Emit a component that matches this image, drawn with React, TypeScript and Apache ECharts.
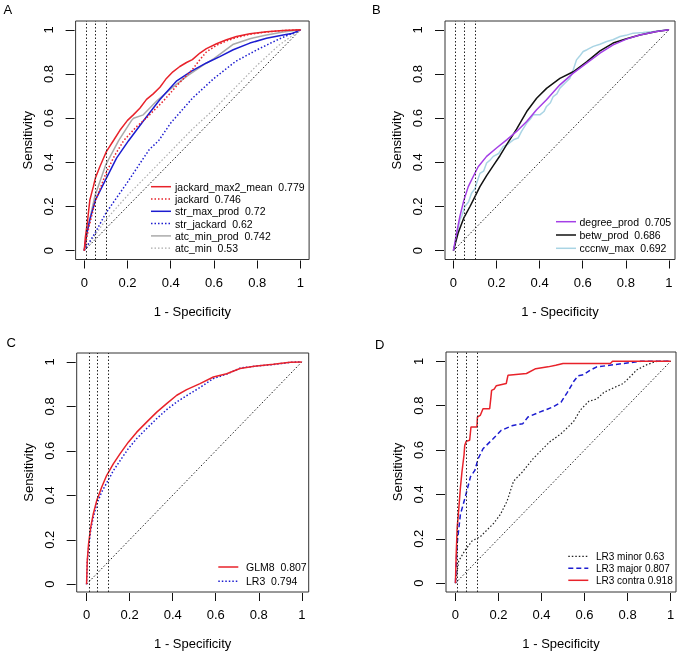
import React, { useEffect, useRef } from "react";
import * as echarts from "echarts";

// ---------- data ----------
const TICKS = [0, 0.2, 0.4, 0.6, 0.8, 1];
const CUTOFFS = [0.01, 0.05, 0.1];
const DIAG = [[0, 0], [1, 1]];

// Panel A
const jackardMax2Mean = [[0,0],[0.005,0.06],[0.014,0.125],[0.026,0.23],[0.042,0.29],[0.052,0.33],[0.072,0.38],[0.103,0.45],[0.136,0.5],[0.165,0.545],[0.2,0.59],[0.227,0.615],[0.257,0.645],[0.288,0.685],[0.319,0.71],[0.35,0.74],[0.365,0.76],[0.38,0.78],[0.41,0.81],[0.442,0.834],[0.473,0.852],[0.5,0.865],[0.535,0.895],[0.565,0.915],[0.612,0.937],[0.658,0.955],[0.704,0.97],[0.766,0.982],[0.843,0.991],[0.92,0.997],[1,1]];
const jackard = [[0,0],[0.02,0.1],[0.05,0.22],[0.1,0.35],[0.14,0.43],[0.182,0.498],[0.24,0.56],[0.29,0.603],[0.367,0.679],[0.428,0.747],[0.47,0.79],[0.5,0.82],[0.535,0.865],[0.565,0.9],[0.612,0.93],[0.658,0.95],[0.704,0.965],[0.766,0.98],[0.843,0.99],[0.92,0.997],[1,1]];
const strMaxProd = [[0,0],[0.01,0.07],[0.026,0.14],[0.052,0.23],[0.103,0.33],[0.15,0.42],[0.205,0.498],[0.274,0.588],[0.351,0.686],[0.428,0.769],[0.498,0.814],[0.565,0.85],[0.627,0.879],[0.689,0.91],[0.766,0.94],[0.843,0.962],[0.92,0.977],[0.966,0.985],[1,1]];
const strJackard = [[0,0],[0.05,0.08],[0.1,0.17],[0.2,0.31],[0.3,0.457],[0.344,0.498],[0.4,0.578],[0.5,0.69],[0.6,0.78],[0.7,0.857],[0.8,0.91],[0.9,0.958],[1,1]];
const atcMinProd = [[0,0],[0.02,0.12],[0.05,0.25],[0.1,0.39],[0.159,0.498],[0.219,0.59],[0.228,0.6],[0.273,0.615],[0.336,0.679],[0.397,0.73],[0.475,0.79],[0.55,0.84],[0.6,0.87],[0.69,0.935],[0.766,0.96],[0.843,0.977],[0.92,0.99],[1,1]];
const atcMin = [[0,0],[0.05,0.07],[0.1,0.14],[0.2,0.25],[0.3,0.35],[0.4,0.45],[0.5,0.55],[0.6,0.64],[0.7,0.74],[0.8,0.84],[0.9,0.93],[1,1]];

// Panel B
const degreeProd = [[0,0],[0.015,0.08],[0.03,0.155],[0.049,0.23],[0.069,0.29],[0.092,0.336],[0.115,0.38],[0.154,0.427],[0.2,0.465],[0.247,0.502],[0.293,0.54],[0.34,0.585],[0.386,0.638],[0.432,0.683],[0.494,0.751],[0.556,0.804],[0.618,0.849],[0.68,0.894],[0.741,0.932],[0.803,0.958],[0.865,0.977],[0.943,0.992],[1,1]];
const betwProd = [[0,0],[0.022,0.08],[0.049,0.15],[0.077,0.2],[0.1,0.245],[0.123,0.29],[0.154,0.34],[0.185,0.385],[0.216,0.43],[0.247,0.48],[0.293,0.55],[0.34,0.63],[0.386,0.69],[0.432,0.735],[0.494,0.78],[0.556,0.81],[0.618,0.855],[0.68,0.905],[0.741,0.94],[0.803,0.96],[0.865,0.977],[0.943,0.992],[1,1]];
const cccnwMax = [[0,0],[0.01,0.04],[0.015,0.065],[0.03,0.14],[0.04,0.16],[0.053,0.2],[0.07,0.22],[0.084,0.26],[0.1,0.28],[0.108,0.306],[0.123,0.35],[0.14,0.36],[0.154,0.397],[0.17,0.41],[0.185,0.427],[0.21,0.44],[0.231,0.472],[0.25,0.48],[0.278,0.502],[0.3,0.51],[0.316,0.54],[0.34,0.578],[0.36,0.6],[0.37,0.615],[0.401,0.615],[0.42,0.63],[0.432,0.653],[0.45,0.67],[0.463,0.698],[0.48,0.71],[0.494,0.736],[0.525,0.766],[0.54,0.78],[0.556,0.819],[0.571,0.864],[0.585,0.88],[0.602,0.902],[0.62,0.91],[0.649,0.925],[0.68,0.935],[0.711,0.947],[0.74,0.955],[0.773,0.97],[0.8,0.975],[0.834,0.985],[0.88,0.988],[0.927,0.992],[1,1]];

// Panel C
const glm8 = [[0,0],[0.003,0.105],[0.009,0.18],[0.019,0.256],[0.031,0.316],[0.047,0.376],[0.07,0.436],[0.093,0.489],[0.124,0.541],[0.155,0.586],[0.194,0.639],[0.233,0.684],[0.279,0.729],[0.326,0.774],[0.372,0.812],[0.419,0.85],[0.465,0.875],[0.527,0.902],[0.589,0.932],[0.651,0.947],[0.713,0.97],[0.791,0.982],[0.868,0.989],[0.946,0.998],[1,1]];
const lr3 = [[0,0],[0.003,0.1],[0.01,0.17],[0.02,0.25],[0.031,0.3],[0.047,0.36],[0.07,0.415],[0.093,0.455],[0.124,0.51],[0.155,0.555],[0.194,0.61],[0.233,0.655],[0.279,0.7],[0.326,0.745],[0.372,0.785],[0.419,0.82],[0.465,0.848],[0.527,0.885],[0.589,0.925],[0.651,0.945],[0.713,0.972],[0.791,0.982],[0.868,0.988],[0.946,0.998],[1,1]];

// Panel D
const lr3Minor = [[0,0],[0.015,0.1],[0.046,0.15],[0.077,0.19],[0.116,0.21],[0.147,0.24],[0.178,0.27],[0.209,0.31],[0.24,0.37],[0.27,0.46],[0.31,0.5],[0.36,0.56],[0.39,0.59],[0.437,0.636],[0.49,0.673],[0.53,0.71],[0.55,0.73],[0.58,0.78],[0.62,0.82],[0.657,0.83],[0.69,0.86],[0.734,0.88],[0.78,0.9],[0.827,0.945],[0.84,0.96],[0.89,0.985],[0.935,1],[1,1]];
const lr3Major = [[0,0],[0.008,0.18],[0.023,0.31],[0.046,0.39],[0.07,0.48],[0.09,0.508],[0.105,0.56],[0.128,0.606],[0.175,0.651],[0.213,0.689],[0.267,0.711],[0.313,0.719],[0.337,0.749],[0.391,0.771],[0.453,0.794],[0.491,0.816],[0.52,0.86],[0.55,0.91],[0.57,0.935],[0.595,0.94],[0.626,0.96],[0.657,0.975],[0.7,0.98],[0.78,0.99],[0.86,1],[1,1]];
const lr3Contra = [[0,0],[0.003,0.12],[0.008,0.25],[0.015,0.33],[0.023,0.43],[0.03,0.5],[0.04,0.58],[0.043,0.62],[0.05,0.64],[0.066,0.644],[0.072,0.704],[0.1,0.704],[0.102,0.749],[0.115,0.756],[0.128,0.786],[0.159,0.786],[0.165,0.84],[0.168,0.869],[0.18,0.875],[0.19,0.89],[0.236,0.9],[0.244,0.937],[0.33,0.945],[0.373,0.967],[0.43,0.975],[0.466,0.982],[0.5,0.99],[0.72,0.99],[0.73,1],[1,1]];

// ---------- styles ----------
const FONT = "Liberation Sans, Arial, sans-serif";
const DOT = [1.5, 2];
const DASH = [5, 3];
const RED = "#e8222a";
const BLUE = "#1c1cd0";
const GREY = "#aaaaaa";

const grids = [
  { left: 75.6, top: 21, width: 233.5, height: 238.5, xr: [-0.04, 1.04], yr: [-0.04, 1.04] },
  { left: 445, top: 21, width: 230, height: 238.5, xr: [-0.039, 1.028], yr: [-0.04, 1.04] },
  { left: 76.7, top: 353, width: 232, height: 239, xr: [-0.046, 1.032], yr: [-0.035, 1.04] },
  { left: 446, top: 352, width: 230, height: 240, xr: [-0.044, 1.025], yr: [-0.04, 1.042] },
];

// series definitions: [label, data, grid, color, dash, width]
const SERIES: [string, number[][], number, string, any, number][] = [
  ["atc_min  0.53", atcMin, 0, GREY, DOT, 1.2],
  ["str_jackard  0.62", strJackard, 0, BLUE, DOT, 1.5],
  ["atc_min_prod  0.742", atcMinProd, 0, GREY, "solid", 1.5],
  ["str_max_prod  0.72", strMaxProd, 0, BLUE, "solid", 1.5],
  ["jackard  0.746", jackard, 0, RED, DOT, 1.5],
  ["jackard_max2_mean  0.779", jackardMax2Mean, 0, RED, "solid", 1.5],
  ["cccnw_max  0.692", cccnwMax, 1, "#a9d4e4", "solid", 1.5],
  ["betw_prod  0.686", betwProd, 1, "#111111", "solid", 1.5],
  ["degree_prod  0.705", degreeProd, 1, "#a43fe6", "solid", 1.5],
  ["LR3  0.794", lr3, 2, BLUE, DOT, 1.5],
  ["GLM8  0.807", glm8, 2, RED, "solid", 1.5],
  ["LR3 minor 0.63", lr3Minor, 3, "#222222", DOT, 1.2],
  ["LR3 major 0.807", lr3Major, 3, BLUE, DASH, 1.5],
  ["LR3 contra 0.918", lr3Contra, 3, RED, "solid", 1.5],
];

// legend order (by label) and layout per panel
const LEGENDS = [
  { x: 151, tx: 175, y0: 186.7, dy: 12.3, fs: 10.5, names: ["jackard_max2_mean  0.779", "jackard  0.746", "str_max_prod  0.72", "str_jackard  0.62", "atc_min_prod  0.742", "atc_min  0.53"] },
  { x: 556, tx: 579.5, y0: 221.7, dy: 13.3, fs: 10.5, names: ["degree_prod  0.705", "betw_prod  0.686", "cccnw_max  0.692"] },
  { x: 218.3, tx: 246, y0: 567, dy: 14.3, fs: 10.5, names: ["GLM8  0.807", "LR3  0.794"] },
  { x: 568.3, tx: 596, y0: 556.3, dy: 12, fs: 10, names: ["LR3 minor 0.63", "LR3 major 0.807", "LR3 contra 0.918"] },
];

const LETTERS = [
  { t: "A", x: 3.5, y: 9.7 },
  { t: "B", x: 372, y: 9.2 },
  { t: "C", x: 6.5, y: 342.8 },
  { t: "D", x: 375, y: 344 },
];

function refSeries(gi: number) {
  return {
    type: "line", name: "ref" + gi, data: DIAG, xAxisIndex: gi, yAxisIndex: gi,
    symbol: "none", silent: true, z: 2,
    lineStyle: { color: "#222", width: 1, type: DOT },
    markLine: {
      silent: true, symbol: ["none", "none"], label: { show: false },
      lineStyle: { color: "#222", width: 1, type: DOT },
      data: CUTOFFS.map((v) => ({ xAxis: v })),
    },
  };
}

export default function App() {
  const ref = useRef<HTMLDivElement>(null);
  useEffect(() => {
    if (!ref.current) return;
    const chart = echarts.init(ref.current, null, { renderer: "svg" });
    const xAxis = grids.map((g, i) => ({
      type: "value", gridIndex: i, min: g.xr[0], max: g.xr[1], offset: 1,
      axisLine: { show: false, onZero: false },
      splitLine: { show: false },
      axisTick: { show: true, length: 8, customValues: TICKS, lineStyle: { color: "#111", width: 1 } },
      axisLabel: { customValues: TICKS, formatter: (v: number) => String(v), fontSize: 13, fontFamily: FONT, color: "#000", margin: 15 },
      name: "1 - Specificity", nameLocation: "middle", nameGap: 44,
      nameTextStyle: { fontSize: 13, fontFamily: FONT, color: "#000" },
    }));
    const yAxis = grids.map((g, i) => ({
      type: "value", gridIndex: i, min: g.yr[0], max: g.yr[1], offset: 1,
      axisLine: { show: false, onZero: false },
      splitLine: { show: false },
      axisTick: { show: true, length: 9, customValues: TICKS, lineStyle: { color: "#111", width: 1 } },
      axisLabel: { customValues: TICKS, formatter: (v: number) => String(v), rotate: 90, fontSize: 13, fontFamily: FONT, color: "#000", margin: 20 },
      name: "Sensitivity", nameLocation: "middle", nameGap: 41,
      nameTextStyle: { fontSize: 13, fontFamily: FONT, color: "#000" },
    }));

    const graphic: any[] = [];
    LETTERS.forEach((l) => {
      graphic.push({ type: "text", x: l.x, y: l.y, silent: true, style: { text: l.t, fontSize: 13, fontFamily: FONT, fill: "#000", verticalAlign: "middle", textVerticalAlign: "middle" } });
    });
    LEGENDS.forEach((lg) => {
      lg.names.forEach((nm, k) => {
        const s = SERIES.find((r) => r[0] === nm)!;
        const y = lg.y0 + k * lg.dy;
        const dash = s[4] === "solid" ? null : s[4];
        graphic.push({ type: "line", silent: true, shape: { x1: lg.x, y1: y, x2: lg.x + 20, y2: y }, style: { stroke: s[3], lineWidth: s[5], lineDash: dash } });
        graphic.push({ type: "text", x: lg.tx, y, silent: true, style: { text: nm, fontSize: lg.fs, fontFamily: FONT, fill: "#000", verticalAlign: "middle", textVerticalAlign: "middle" } });
      });
    });

    const option: any = {
      animation: false,
      grid: grids.map((g) => ({
        left: g.left, top: g.top, width: g.width, height: g.height,
        show: true, borderColor: "#333", borderWidth: 1, backgroundColor: "transparent",
        containLabel: false, outerBoundsMode: "none",
      })),
      xAxis, yAxis,
      graphic,
      series: [
        refSeries(0), refSeries(1), refSeries(2), refSeries(3),
        ...SERIES.map(([name, data, gi, color, type, width]) => ({
          type: "line", name, data, xAxisIndex: gi, yAxisIndex: gi,
          symbol: "none", showSymbol: false, smooth: false, silent: true, z: 3,
          lineStyle: { color, width, type }, itemStyle: { color },
        })),
      ],
    };
    chart.setOption(option);
    return () => chart.dispose();
  }, []);
  return <div ref={ref} style={{ position: "fixed", left: 0, top: 0, width: 683, height: 654 }} />;
}
